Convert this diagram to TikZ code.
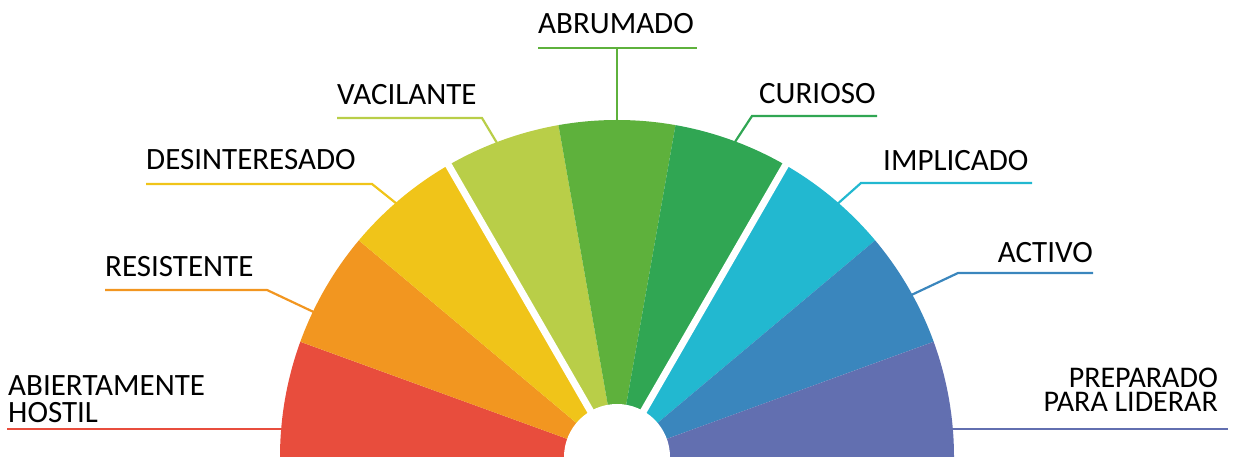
\documentclass[tikz,border=0pt]{standalone}
\usepackage{fontspec}
\setmainfont{Carlito}
\definecolor{cRed}{HTML}{E84D3D}
\definecolor{cOrange}{HTML}{F29620}
\definecolor{cYellow}{HTML}{F0C419}
\definecolor{cLime}{HTML}{B9CE48}
\definecolor{cGreen}{HTML}{5EB13C}
\definecolor{cDGreen}{HTML}{30A653}
\definecolor{cCyan}{HTML}{22B8D0}
\definecolor{cBlue}{HTML}{3A86BD}
\definecolor{cPurple}{HTML}{626FB0}
\tikzset{
  lbl/.style={inner sep=0pt, font=\fontsize{31}{27}\selectfont, text=black},
  lead/.style={line width=2.2pt},
}
\begin{document}
\begin{tikzpicture}[x=1pt,y=1pt]
\useasboundingbox (0,0) rectangle (1237,460);
\coordinate (C) at (617,3);
% leader lines and labels
\node[lbl, anchor=base west, align=left] (hos) at (8,37) {ABIERTAMENTE\\HOSTIL};
\coordinate (hos1) at (7,31); \coordinate (hos2) at (300,31);
\draw[lead, cRed] (hos1) -- (hos2);

\node[lbl, anchor=base west] (res) at (105,183) {RESISTENTE};
\coordinate (res1) at (105,170); \coordinate (res2) at (267,170); \coordinate (res3) at (320,145);
\draw[lead, cOrange] (res1) -- (res2) -- (res3);

\node[lbl, anchor=base west] (des) at (146,290) {DESINTERESADO};
\coordinate (des1) at (146,276); \coordinate (des2) at (372,276); \coordinate (des3) at (402,252);
\draw[lead, cYellow] (des1) -- (des2) -- (des3);

\node[lbl, anchor=base west] (vac) at (337,355) {VACILANTE};
\coordinate (vac1) at (337,342); \coordinate (vac2) at (482,342); \coordinate (vac3) at (500,312);
\draw[lead, cLime] (vac1) -- (vac2) -- (vac3);

\node[lbl, anchor=base west] (abr) at (538,426) {ABRUMADO};
\coordinate (abr1) at (538,412); \coordinate (abr2) at (697,412);
\coordinate (abrm) at (617,412); \coordinate (abr3) at (617,330);
\draw[lead, cGreen] (abr1) -- (abr2);
\draw[lead, cGreen] (abrm) -- (abr3);

\node[lbl, anchor=base west] (cur) at (759,356) {CURIOSO};
\coordinate (cur1) at (877,344); \coordinate (cur2) at (752,344); \coordinate (cur3) at (731,312);
\draw[lead, cDGreen] (cur1) -- (cur2) -- (cur3);

\node[lbl, anchor=base west] (imp) at (883,289) {IMPLICADO};
\coordinate (imp1) at (1032,277); \coordinate (imp2) at (861,277); \coordinate (imp3) at (834,253);
\draw[lead, cCyan] (imp1) -- (imp2) -- (imp3);

\node[lbl, anchor=base east] (act) at (1093,197) {ACTIVO};
\coordinate (act1) at (1093,187); \coordinate (act2) at (958,187); \coordinate (act3) at (905,162);
\draw[lead, cBlue] (act1) -- (act2) -- (act3);

\node[lbl, anchor=base east, align=right, font=\fontsize{30}{24}\selectfont] (pre) at (1218,48) {PREPARADO\\PARA LIDERAR};
\coordinate (pre1) at (1228,31); \coordinate (pre2) at (930,31);
\draw[lead, cPurple] (pre1) -- (pre2);

% sectors
\foreach \a/\col in {160/cRed,140/cOrange,120/cYellow,100/cLime,80/cGreen,60/cDGreen,40/cCyan,20/cBlue,0/cPurple}{
  \fill[\col] (C) -- ++(\a:337) arc[start angle=\a, end angle=\a+20, radius=337] -- cycle;
}
% gaps and hole
\draw[white, line width=7pt] (C) -- ++(120:345);
\draw[white, line width=7pt] (C) -- ++(60:345);
\fill[white] (C) circle[radius=53];
\fill[white] (250,0) rectangle (990,3);
\end{tikzpicture}
\end{document}
